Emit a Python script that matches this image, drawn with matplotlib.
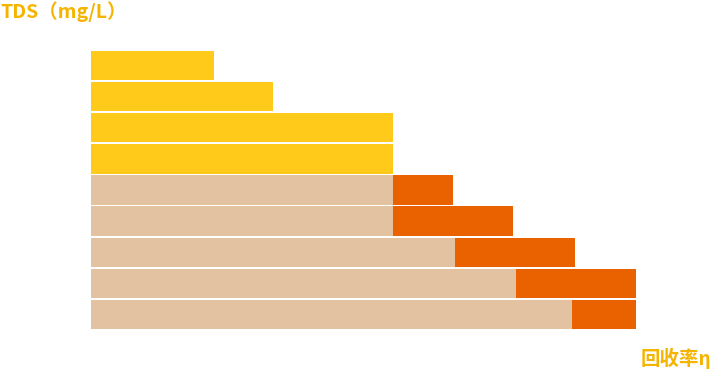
import matplotlib
matplotlib.use("Agg")
import matplotlib.pyplot as plt

rows = list(range(9))
yellow = [123, 182, 302, 302, 0, 0, 0, 0, 0]
tan = [0, 0, 0, 0, 302, 302, 364, 425, 481]
orange = [0, 0, 0, 0, 60, 120, 120, 120, 64]
y_label = "TDS（mg/L）"
x_label = "回收率η"

plt.rcParams['font.family'] = ['Noto Sans CJK SC', 'DejaVu Sans']

fig = plt.figure(figsize=(7.11, 3.70), dpi=100)
W, H = 711, 370
ax = fig.add_axes([91 / W, 1 - 330 / H, 620 / W, 280 / H])
ax.barh(rows, yellow, height=0.94, color="#FFCA1A", linewidth=0)
ax.barh(rows, tan, height=0.94, color="#E2C2A0", linewidth=0)
ax.barh(rows, orange, left=tan, height=0.94, color="#EA6100", linewidth=0)
ax.set_xlim(0, 620)
ax.set_ylim(8.5, -0.5)
ax.axis("off")

fig.text(0 / W, 1 - 12 / H, y_label, color="#F5B400", fontsize=14,
         fontweight="bold", ha="left", va="center")
fig.text(711 / W, 1 - 358 / H, x_label, color="#F5B400", fontsize=14,
         fontweight="bold", ha="right", va="center")

fig.savefig("out.png", dpi=100)
